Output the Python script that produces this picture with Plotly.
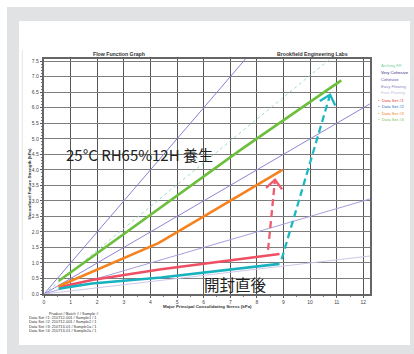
import math
import plotly.graph_objects as go

# ---- figure geometry -------------------------------------------------------
W, H = 414, 354
ML, MR, MT, MB = 44, 44, 59, 60
PW, PH = W - ML - MR, H - MT - MB
X_RANGE = [0, 12.25]
Y_RANGE = [0, 7.57]

# ---- flow-function reference lines (ff = sigma1 / fc) ----------------------
ff_names = ["Arching FF", "Very Cohesive", "Cohesive", "Easy Flowing", "Free Flowing"]
ff_values = [1.42, 1.0, 2.0, 4.0, 10.0]
ff_line_colors = ["#9fdcc4", "#8a7fd2", "#8f84d2", "#a79fdc", "#cdc6ea"]
ff_text_colors = ["#6fcf97", "#3b2e7e", "#5b4aa8", "#8f86c8", "#c9c2e4"]
ff_dash = ["dot", "solid", "solid", "solid", "solid"]

# ---- measured data sets: major principal stress (kPa) vs fc (kPa) ---------
set_names = ["Data Set #1", "Data Set #2", "Data Set #3", "Data Set #4"]
set1_sigma = [0.55, 1.8, 4.4, 8.85]
set1_fc = [0.22, 0.45, 0.80, 1.29]
set2_sigma = [0.55, 1.8, 4.4, 8.85]
set2_fc = [0.17, 0.34, 0.53, 0.97]
set3_sigma = [0.55, 1.6, 4.3, 6.5, 8.96]
set3_fc = [0.25, 0.64, 1.64, 2.75, 4.00]
set4_sigma = [0.55, 1.9, 4.3, 7.4, 11.17]
set4_fc = [0.42, 1.25, 2.75, 4.65, 6.88]
set_sigma = [set1_sigma, set2_sigma, set3_sigma, set4_sigma]
set_fc = [set1_fc, set2_fc, set3_fc, set4_fc]
set_line_colors = ["#ef4f63", "#17b2be", "#f5821f", "#6cbf3c"]
set_text_colors = ["#e03a3a", "#2a6fb8", "#f07a2a", "#7cc35a"]

# ---- change arrows (before -> after conditioning) --------------------------
arrow_red_start = (8.42, 1.42)
arrow_red_end = (8.68, 3.68)
arrow_cyan_start = (8.93, 1.12)
arrow_cyan_end = (10.75, 6.42)

sample_lines = [
    "Data Set #1: 210712-001 / Sample1 / 1",
    "Data Set #2: 210712-001 / Sample2 / 1",
    "Data Set #3: 210713-01 / Sample1a / 1",
    "Data Set #4: 210713-01 / Sample2a / 1",
]

SMALL = "Liberation Sans, Arial, sans-serif"
CJK = "Noto Sans CJK JP, Noto Sans, sans-serif"


def px(x, y):
    """Convert a pixel position on the page to paper coordinates."""
    return (x - ML) / PW, (H - MB - y) / PH


kx = PW / (X_RANGE[1] - X_RANGE[0])
ky = PH / (Y_RANGE[1] - Y_RANGE[0])

fig = go.Figure()

# reference flow-function lines through the origin
for name, ff, col, dash in zip(ff_names, ff_values, ff_line_colors, ff_dash):
    fig.add_trace(go.Scatter(
        x=[0, X_RANGE[1]], y=[0, X_RANGE[1] / ff], mode="lines", name=name,
        line=dict(color=col, width=1, dash=dash), hoverinfo="skip"))

# measured flow functions
for name, xs, ys, col in zip(set_names, set_sigma, set_fc, set_line_colors):
    fig.add_trace(go.Scatter(
        x=xs, y=ys, mode="lines", name=name,
        line=dict(color=col, width=2.6)))


def dashed_arrow(start, end, color):
    fig.add_trace(go.Scatter(
        x=[start[0], end[0]], y=[start[1], end[1]], mode="lines",
        line=dict(color=color, width=2.3, dash="7px,4px"), hoverinfo="skip"))
    # open V head, built in screen space
    dx = (end[0] - start[0]) * kx
    dy = (end[1] - start[1]) * ky
    ang = math.atan2(dy, dx)
    L = 12
    hx, hy = [], []
    for s in (1, -1):
        a = ang + math.pi + s * math.radians(42)
        hx += [end[0] + L * math.cos(a) / kx, None]
        hy += [end[1] + L * math.sin(a) / ky, None]
    wx = [hx[0], end[0], hx[2]]
    wy = [hy[0], end[1], hy[2]]
    fig.add_trace(go.Scatter(x=wx, y=wy, mode="lines",
                             line=dict(color=color, width=2.3), hoverinfo="skip"))


dashed_arrow(arrow_red_start, arrow_red_end, "#ee5a6e")
dashed_arrow(arrow_cyan_start, arrow_cyan_end, "#1bb8c4")

ann = []


def text(x, y, s, size, color="#333", xanchor="center", font=SMALL, **kw):
    xp, yp = px(x, y)
    ann.append(dict(x=xp, y=yp, xref="paper", yref="paper", text=s, showarrow=False,
                    xanchor=xanchor, yanchor="middle",
                    font=dict(size=size, color=color, family=font), **kw))


text(119, 53.5, "<b>Flow Function Graph</b>", 5.2, "#333")
text(312.5, 53.5, "<b>Brookfield Engineering Labs</b>", 5.2, "#333")
text(207, 306.5, "<b>Major Principal Consolidating Stress (kPa)</b>", 4.4, "#333")
text(28.5, 184, "<b>Unconfined Failure Strength (kPa)</b>", 4.4, "#333", textangle=-90)

# legend block
leg_y = [65.7, 72.6, 79.3, 86.0, 92.7]
for name, col, yy in zip(ff_names, ff_text_colors, leg_y):
    text(379, yy, name, 4.2, col, xanchor="left")
set_y = [100.0, 106.7, 113.2, 119.8]
for name, col, yy in zip(set_names, set_text_colors, set_y):
    text(375.5, yy, "•  " + name, 4.2, col, xanchor="left")

# sample identification block
text(74, 313.3, "Product / Batch # / Sample #", 3.9, "#333")
for i, line in enumerate(sample_lines):
    text(26.5, 317.6 + 4.2 * i, line, 3.9, "#333", xanchor="left")

# conditioning notes
text(64, 154.3, "25°C RH65%12H 養生", 15, "#222", xanchor="left", font=CJK)
text(202, 284, "開封直後", 15.5, "#222", xanchor="left", font=CJK)

shapes = []


def rect(x0, y0, x1, y1, color):
    a, b = px(x0, y0)
    c, d = px(x1, y1)
    shapes.append(dict(type="rect", xref="paper", yref="paper", x0=a, y0=d, x1=c, y1=b,
                       fillcolor=color, line=dict(width=0), layer="below"))


# grey mount with white card
rect(7, 7, W + 2, H + 2, "#e1e2e3")
rect(19, 21, 410, 345, "#ffffff")
a, b = px(22.3, 50)
c, d = px(22.3, 300)
shapes.append(dict(type="line", xref="paper", yref="paper", x0=a, y0=b, x1=c, y1=d,
                   line=dict(color="#e4e4e4", width=1), layer="below"))

fig.update_layout(
    width=W, height=H, margin=dict(l=ML, r=MR, t=MT, b=MB, pad=0),
    paper_bgcolor="#ffffff", plot_bgcolor="#ffffff", showlegend=False,
    annotations=ann, shapes=shapes,
    xaxis=dict(range=X_RANGE, dtick=1, tick0=0, showgrid=True, gridcolor="#555555",
               gridwidth=1, zeroline=False, showline=True, linecolor="#666666",
               linewidth=1.5, mirror=True, ticks="outside", ticklen=2.5,
               tickcolor="#555", tickfont=dict(size=5, color="#444", family=SMALL),
               minor=dict(dtick=0.5, ticks="outside", ticklen=1.5, tickcolor="#777",
                          showgrid=False)),
    yaxis=dict(range=Y_RANGE, dtick=0.5, tick0=0, tickformat=".1f", showgrid=True,
               gridcolor="#7d7d7d", gridwidth=1.4, zeroline=False, showline=True,
               linecolor="#666666", linewidth=1.5, mirror=True, ticks="outside",
               ticklen=2.5, tickcolor="#555",
               tickfont=dict(size=5, color="#444", family=SMALL),
               minor=dict(dtick=0.1, ticks="outside", ticklen=1.5, tickcolor="#777",
                          showgrid=False)),
)

fig.write_html("out.html")
